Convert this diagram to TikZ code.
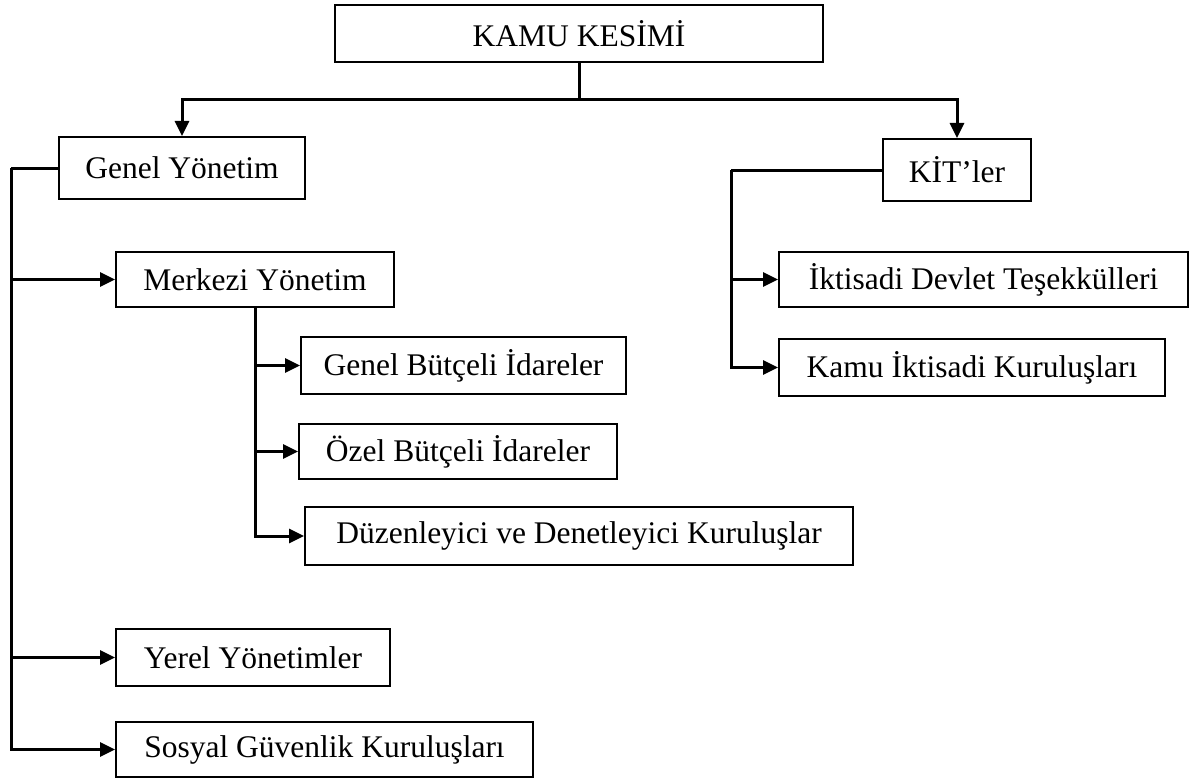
\documentclass[tikz,border=0pt]{standalone}
\usepackage{fontspec}
\setmainfont{Liberation Serif}
\usetikzlibrary{arrows.meta}
\begin{document}
\begin{tikzpicture}[x=1pt,y=-1pt,
  box/.style={draw, line width=2pt, inner sep=0pt, font=\fontsize{31.5}{37}\selectfont},
  conn/.style={line width=3pt},
  arr/.style={conn, -{Triangle[length=15pt,width=14pt]}}]
\useasboundingbox (0,0) rectangle (1191,781);
\fill[white] (0,0) rectangle (1191,781);
% boxes
\node[box, minimum width=488pt, minimum height=57pt] (kamu) at (579,33.5) {KAMU KESİMİ};
\node[box, minimum width=246pt, minimum height=62pt] (genel) at (182,168) {Genel Yönetim};
\node[box, minimum width=148pt, minimum height=62pt] (kit) at (957,170) {KİT’ler};
\node[box, minimum width=278pt, minimum height=55pt] (merkezi) at (255,279.5) {Merkezi Yönetim};
\node[box, minimum width=325pt, minimum height=57pt] (gbi) at (463.5,365.5) {Genel Bütçeli İdareler};
\node[box, minimum width=318pt, minimum height=55pt] (obi) at (458,451.5) {Özel Bütçeli İdareler};
\node[box, minimum width=548pt, minimum height=58pt] (ddk) at (579,536) {Düzenleyici ve Denetleyici Kuruluşlar};
\node[box, minimum width=274pt, minimum height=57pt] (yerel) at (253,657.5) {Yerel Yönetimler};
\node[box, minimum width=417pt, minimum height=55pt] (sosyal) at (324.5,749.5) {Sosyal Güvenlik Kuruluşları};
\node[box, minimum width=409pt, minimum height=55pt] (idt) at (983.5,279.5) {İktisadi Devlet Teşekkülleri};
\node[box, minimum width=386pt, minimum height=57pt] (kik) at (972,367.5) {Kamu İktisadi Kuruluşları};
% connectors
\coordinate (hb) at (579,100);
\draw[conn] (kamu.south) -- (hb);
\draw[arr] (hb) -| (genel.north);
\draw[arr] (hb) -| (kit.north);
\coordinate (gl) at (11,168);
\draw[conn] (genel.west) -- (gl);
\draw[arr] (gl) |- (merkezi.west);
\draw[arr] (gl) |- (yerel.west);
\draw[arr] (gl) |- (sosyal.west);
\draw[arr] (merkezi.south) |- (gbi.west);
\draw[arr] (merkezi.south) |- (obi.west);
\draw[arr] (merkezi.south) |- (ddk.west);
\coordinate (kl) at (731,170);
\draw[conn] (kit.west) -- (kl);
\draw[arr] (kl) |- (idt.west);
\draw[arr] (kl) |- (kik.west);
\end{tikzpicture}
\end{document}
